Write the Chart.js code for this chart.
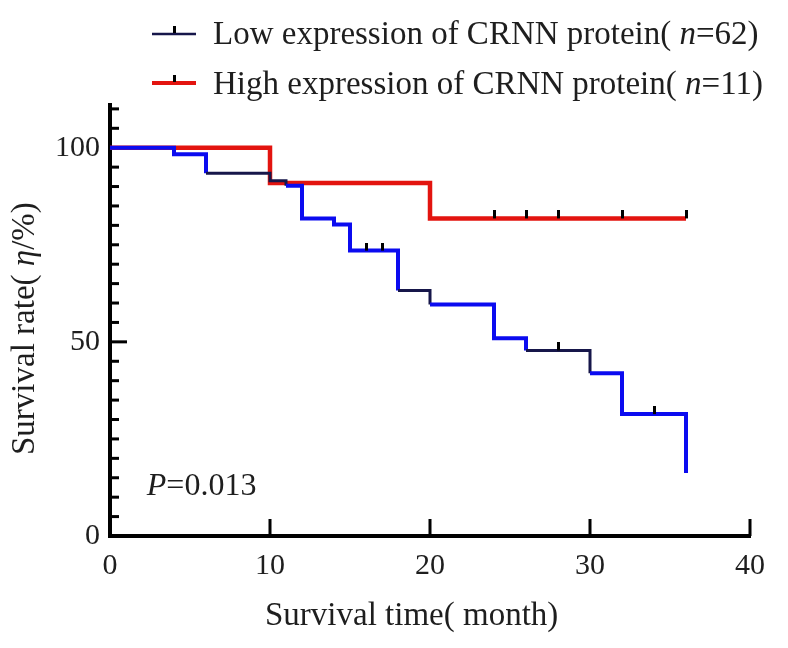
<!DOCTYPE html>
<html>
<head>
<meta charset="utf-8">
<script src="https://cdn.jsdelivr.net/npm/chart.js@4.4.1/dist/chart.umd.min.js"></script>
<style>
  html, body { margin: 0; padding: 0; background: #fff; }
  canvas { display: block; }
</style>
</head>
<body>
<canvas id="km" width="788" height="648"></canvas>
<script>
// Kaplan-Meier survival curves, CRNN protein expression

const lowTimes = [0, 4, 6, 10, 11, 12, 14, 15, 18, 20, 24, 26, 30, 32, 36];
const lowSurvival = [100, 98.3, 93.4, 91.5, 90.2, 81.8, 80.2, 73.5, 63.2, 59.6, 50.9, 47.8, 41.9, 31.4, 16.2];
const lowCensored = [16, 17, 28, 34];

const highTimes = [0, 10, 20, 36];
const highSurvival = [100, 90.9, 81.8, 81.8];
const highCensored = [24, 26, 28, 32, 36];

const xTicks = [0, 10, 20, 30, 40];
const yTickLabels = [0, 50, 100];

const SERIF = '"Liberation Serif", "Times New Roman", serif';
const TEXT = '#1e1e1e';
const BLUE = '#0b0bf0';
const NAVY = '#16164a';
const RED = '#e3140f';
const DARK_FROM = [6, 10, 18, 26];   // steps that come out near-black in the print

// survival level of a step curve at time t
function survivalAt(times, values, t) {
    let v = values[0];
    times.forEach((tt, i) => { if (tt <= t) v = values[i]; });
    return v;
}

// little vertical censor tick, sits on top of the line
function censorMark() {
    const c = document.createElement('canvas');
    c.width = 3; c.height = 16;
    const g = c.getContext('2d');
    g.fillStyle = '#000';
    g.fillRect(0, 0, 3, 8);
    return c;
}

// text with italic pieces: parts = [[text, italic], ...]
function drawRich(ctx, parts, x, y, size) {
    parts.forEach(([txt, it]) => {
        ctx.font = (it ? 'italic ' : '') + size + 'px ' + SERIF;
        ctx.fillText(txt, x, y);
        x += ctx.measureText(txt).width;
    });
}

const decor = {
    id: 'kmDecor',
    beforeDatasetsDraw(chart) {
        const { ctx, scales: { x, y } } = chart;
        ctx.save();
        ctx.fillStyle = '#000';
        const left = x.getPixelForValue(0);
        const bottom = y.getPixelForValue(0);
        // y ticks every 5, pointing inward; longer at the labelled ones
        for (let v = 5; v <= 110; v += 5) {
            const py = y.getPixelForValue(v);
            const len = yTickLabels.includes(v) ? 17 : 9;
            ctx.fillRect(left, py - 1.5, len, 3);
        }
        xTicks.slice(1).forEach(v => {
            const px = x.getPixelForValue(v);
            ctx.fillRect(px - 1.5, bottom - 17, 3, 17);
        });
        ctx.restore();
    },
    afterDraw(chart) {
        const { ctx, scales: { x, y } } = chart;
        ctx.save();
        ctx.fillStyle = TEXT;
        ctx.textBaseline = 'alphabetic';
        ctx.textAlign = 'left';

        // legend
        const rows = [
            { color: NAVY, w: 2.5, ly: 34, ty: 44, parts: [['Low expression of CRNN protein( ', false], ['n', true], ['=62)', false]] },
            { color: RED, w: 4, ly: 83, ty: 94, parts: [['High expression of CRNN protein( ', false], ['n', true], ['=11)', false]] },
        ];
        rows.forEach(r => {
            ctx.fillStyle = r.color;
            ctx.fillRect(152, r.ly - r.w / 2, 44, r.w);
            ctx.fillStyle = '#000';
            ctx.fillRect(173, r.ly - 8, 3, 7);
            ctx.fillStyle = TEXT;
            drawRich(ctx, r.parts, 213, r.ty, 33);
        });

        // P value
        drawRich(ctx, [['P', true], ['=0.013', false]], x.getPixelForValue(2.3), y.getPixelForValue(10.5), 32);

        // x title
        drawRich(ctx, [['Survival time( month)', false]], 265, 625, 33);

        // y title, rotated
        ctx.translate(34, 455);
        ctx.rotate(-Math.PI / 2);
        drawRich(ctx, [['Survival rate( ', false], ['\u03b7', true], ['/%)', false]], 0, 0, 33);
        ctx.restore();
    },
};

const mark = censorMark();

new Chart(document.getElementById('km'), {
    type: 'line',
    data: {
        datasets: [
            {
                label: 'low censored',
                data: lowCensored.map(t => ({ x: t, y: survivalAt(lowTimes, lowSurvival, t) })),
                showLine: false,
                pointStyle: mark,
                pointRadius: 4,
                order: 0,
            },
            {
                label: 'high censored',
                data: highCensored.map(t => ({ x: t, y: survivalAt(highTimes, highSurvival, t) })),
                showLine: false,
                pointStyle: mark,
                pointRadius: 4,
                order: 1,
            },
            {
                label: 'Low expression of CRNN protein (n=62)',
                data: lowTimes.map((t, i) => ({ x: t, y: lowSurvival[i] })),
                borderColor: BLUE,
                borderWidth: 4,
                stepped: 'before',
                pointRadius: 0,
                fill: false,
                order: 2,
                segment: {
                    borderColor: c => DARK_FROM.includes(lowTimes[c.p0DataIndex]) ? NAVY : undefined,
                    borderWidth: c => DARK_FROM.includes(lowTimes[c.p0DataIndex]) ? 3 : undefined,
                },
            },
            {
                label: 'High expression of CRNN protein (n=11)',
                data: highTimes.map((t, i) => ({ x: t, y: highSurvival[i] })),
                borderColor: RED,
                borderWidth: 4.5,
                stepped: 'before',
                pointRadius: 0,
                fill: false,
                order: 3,
            },
        ],
    },
    options: {
        responsive: false,
        animation: false,
        layout: { padding: { top: 105, right: 38, left: 0, bottom: 0 } },
        plugins: {
            legend: { display: false },
            tooltip: { enabled: false },
        },
        scales: {
            x: {
                type: 'linear',
                min: 0,
                max: 40,
                afterFit: s => { s.height = 112; },
                afterBuildTicks: s => { s.ticks = xTicks.map(v => ({ value: v })); },
                ticks: { color: TEXT, font: { family: SERIF, size: 30 }, padding: 12, maxRotation: 0 },
                grid: { display: false, drawTicks: false },
                border: { display: true, width: 4, color: '#000' },
            },
            y: {
                type: 'linear',
                min: 0,
                max: 111,
                afterFit: s => { s.width = 110; },
                afterBuildTicks: s => { s.ticks = yTickLabels.map(v => ({ value: v })); },
                ticks: { color: TEXT, font: { family: SERIF, size: 30 }, padding: 10 },
                grid: { display: false, drawTicks: false },
                border: { display: true, width: 4, color: '#000' },
            },
        },
    },
    plugins: [decor],
});
</script>
</body>
</html>
